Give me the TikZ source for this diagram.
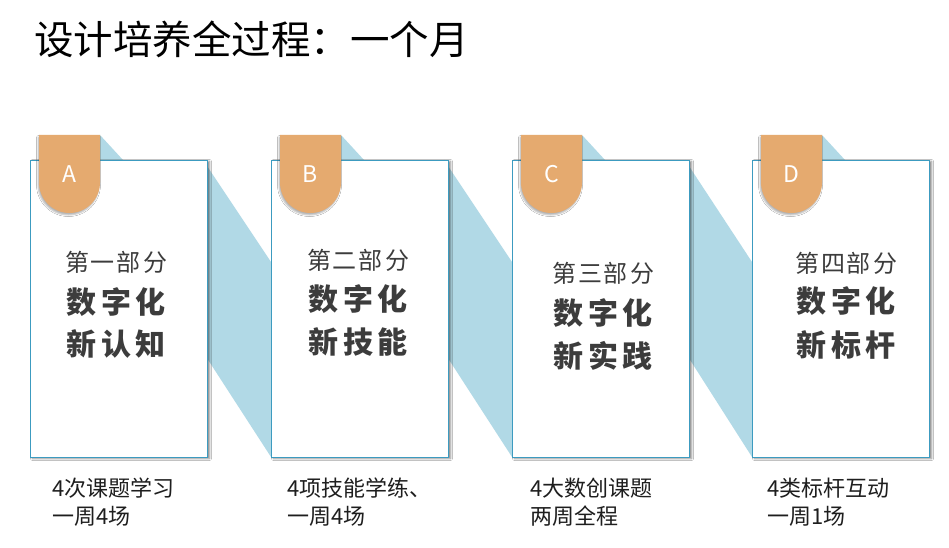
\documentclass[tikz,border=0pt]{standalone}
\usepackage{fontspec}
\setmainfont{Noto Sans CJK SC}
\usetikzlibrary{shadows.blur}
\definecolor{bandblue}{HTML}{B1D9E6}
\definecolor{taborange}{HTML}{E5AA6F}
\definecolor{cardline}{HTML}{3C9BC0}
\definecolor{cardtext}{HTML}{3C3C3C}
\definecolor{labeltext}{HTML}{1E1E1E}
\newcommand\ks{\kern4.5pt}
\newcommand\kt{\kern2pt}
\tikzset{
  band/.style={fill=bandblue, draw=none},
  fold/.style={fill=bandblue, draw=none},
  card/.style={fill=white, draw=cardline, line width=0.9pt,
    blur shadow={shadow xshift=2.5pt, shadow yshift=-1.5pt, shadow blur radius=2pt, shadow opacity=50}},
  tabshape/.style={fill=taborange, draw=none,
    blur shadow={shadow xshift=-1pt, shadow yshift=-2pt, shadow blur radius=1.5pt, shadow opacity=30}},
  tabletter/.style={text=white, font=\fontsize{23}{26}\selectfont, inner sep=0pt},
  parttext/.style={text=cardtext, font=\fontsize{24}{28}\selectfont, inner sep=0pt},
  bigtext/.style={text=cardtext, font=\fontsize{30}{33}\selectfont\bfseries, inner sep=0pt},
  labeltxt/.style={text=labeltext, font=\fontsize{22}{28}\selectfont, inner sep=0pt, anchor=north west, align=left},
  titletxt/.style={text=black, font=\fontsize{39.5}{44}\selectfont, inner sep=0pt, anchor=west}
}
\begin{document}
\begin{tikzpicture}[x=1pt, y=-1pt]
\useasboundingbox (0,0) rectangle (949,548);
\fill[white] (0,0) rectangle (949,548);
% title
\node[titletxt] (title) at (34,39) {设计培养全过程：一个月};
% bands between cards
\foreach \r/\l in {207/271, 448/512, 689/752}{
  \path[band] (\r-4,160) -- (\l,262) -- (\l,457) -- (\r-4,352) -- cycle;
}
% folds beside tabs
\foreach \x in {30,271,512,752}{
  \path[fold] (\x+70,135) -- (\x+93,160) -- (\x+70,160) -- cycle;
}
% cards
\foreach \x/\n in {30/A,271/B,512/C,752/D}{
  \path[card] (\x,160) rectangle (\x+177,457);
  \coordinate (card\n) at (\x+88.5,308);
}
% tabs
\foreach \x/\n in {30/A,271/B,512/C,752/D}{
  \path[tabshape] (\x+9,135) -- (\x+70,135) -- (\x+70,182.5)
     arc[start angle=0, end angle=-180, radius=30.5pt] -- cycle;
  \node[tabletter] (tab\n) at (\x+39.5,174) {\n};
}
% card texts
\node[parttext] (pA) at (116,262) {第\kt 一\kt 部\kt 分};
\node[bigtext]  (bA1) at (116,302) {数\ks 字\ks 化};
\node[bigtext]  (bA2) at (116,344) {新\ks 认\ks 知};
\node[parttext] (pB) at (358,260) {第\kt 二\kt 部\kt 分};
\node[bigtext]  (bB1) at (358,299) {数\ks 字\ks 化};
\node[bigtext]  (bB2) at (358,342) {新\ks 技\ks 能};
\node[parttext] (pC) at (603,273) {第\kt 三\kt 部\kt 分};
\node[bigtext]  (bC1) at (603,313) {数\ks 字\ks 化};
\node[bigtext]  (bC2) at (603,356) {新\ks 实\ks 践};
\node[parttext] (pD) at (846,263) {第\kt 四\kt 部\kt 分};
\node[bigtext]  (bD1) at (846,301) {数\ks 字\ks 化};
\node[bigtext]  (bD2) at (846,345) {新\ks 标\ks 杆};
% labels
\node[labeltxt] (lA) at (52,478) {4次课题学习\\一周4场};
\node[labeltxt] (lB) at (287,478) {4项技能学练、\\一周4场};
\node[labeltxt] (lC) at (530,478) {4大数创课题\\两周全程};
\node[labeltxt] (lD) at (767,478) {4类标杆互动\\一周1场};
\end{tikzpicture}
\end{document}
